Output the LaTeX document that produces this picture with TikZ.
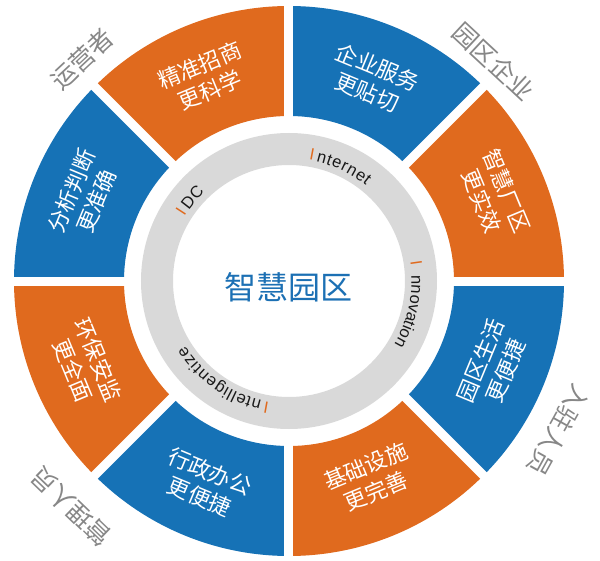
\documentclass[tikz,border=0pt]{standalone}
\usepackage{fontspec}
\setmainfont{Liberation Sans}
\newfontfamily\cjk{Noto Sans CJK SC}
\usetikzlibrary{decorations.text}
\definecolor{segorange}{RGB}{224,106,30}
\definecolor{segblue}{RGB}{22,114,182}
\definecolor{ringgray}{RGB}{217,217,217}
\definecolor{labelgray}{RGB}{135,135,135}
\definecolor{centerblue}{RGB}{28,112,180}
\definecolor{ringtext}{RGB}{25,25,25}
\tikzset{
  segtext/.style={text=white, align=center, inner sep=0pt, font=\cjk\fontsize{22}{27}\selectfont},
  outerlabel/.style={text=labelgray, inner sep=0pt, font=\cjk\fontsize{25}{28}\selectfont},
  orangeI/.style={text=segorange, inner sep=0pt, font=\fontsize{16.5}{18}\selectfont},
  ringword/.style={decorate, decoration={text along path, text align={fit to path}, text color=ringtext, text={|\fontsize{16.5}{18}\selectfont|#1}}}
}
\begin{document}
\begin{tikzpicture}[x=1pt,y=1pt]
\useasboundingbox (-289,-279) rectangle (311,281);
% segments
\foreach \a/\c in {90/segorange,45/segblue,0/segorange,-45/segblue,-90/segorange,-135/segblue,-180/segorange,135/segblue}{
  \pgfmathsetmacro\b{\a+45}
  \fill[\c] (\a:165) arc[start angle=\a, end angle=\b, radius=165] -- (\b:275) arc[start angle=\b, end angle=\a, radius=275] -- cycle;
}
% gaps
\foreach \a in {0,45,90,135}{
  \pgfmathsetmacro\b{\a+180}
  \draw[white, line width=9pt] (\a:290) -- (\b:290);
}
% ring
\fill[ringgray, even odd rule] (0,0) circle[radius=148] (0,0) circle[radius=116];
% center
\node[text=centerblue, inner sep=0pt, font=\cjk\fontsize{32}{38}\selectfont] (center) at (0,-6) {智慧园区};
% segment texts
\node[segtext, rotate=22.5] (s1) at (112.5:220) {精准招商\\更科学};
\node[segtext, rotate=-22.5] (s2) at (67.5:218) {企业服务\\更贴切};
\node[segtext, rotate=-67.5] (s3) at (22.5:222) {智慧厂区\\更实效};
\node[segtext, rotate=67.5] (s4) at (-22.5:221) {园区生活\\更便捷};
\node[segtext, rotate=22.5] (s5) at (-67.5:214) {基础设施\\更完善};
\node[segtext, rotate=-22.5] (s6) at (-112.5:220) {行政办公\\更便捷};
\node[segtext, rotate=-67.5] (s7) at (-157.5:220) {环保安监\\更全面};
\node[segtext, rotate=67.5] (s8) at (157.5:222) {分析判断\\更准确};
% outer labels
\node[outerlabel, rotate=43] (l1) at (133:303) {运营者};
\node[outerlabel, rotate=-43] (l2) at (47:300) {园区企业};
\node[outerlabel, rotate=-119] (l3) at (-29:308) {入驻人员};
\node[outerlabel, rotate=136] (l4) at (-134:314) {管理人员};
% ring words
\node[orangeI, rotate=-10.6] (i1) at (79.6:128.5) {I};
\path[ringword={nternet}] (77.2:122.5) arc[start angle=77.2, end angle=51, radius=122.5];
\node[orangeI, rotate=-82.1] (i2) at (7.9:128.5) {I};
\path[ringword={nnovation}] (2.5:122.5) arc[start angle=2.5, end angle=-31, radius=122.5];
\node[orangeI, rotate=-190.3] (i3) at (-100.3:128.5) {I};
\path[ringword={ntelligentize}] (-102.8:122.5) arc[start angle=-102.8, end angle=-148, radius=122.5];
\node[orangeI, rotate=57] (i4) at (147.3:128.5) {I};
\path[ringword={DC}] (144.8:122.5) arc[start angle=144.8, end angle=133.5, radius=122.5];
\end{tikzpicture}
\end{document}
